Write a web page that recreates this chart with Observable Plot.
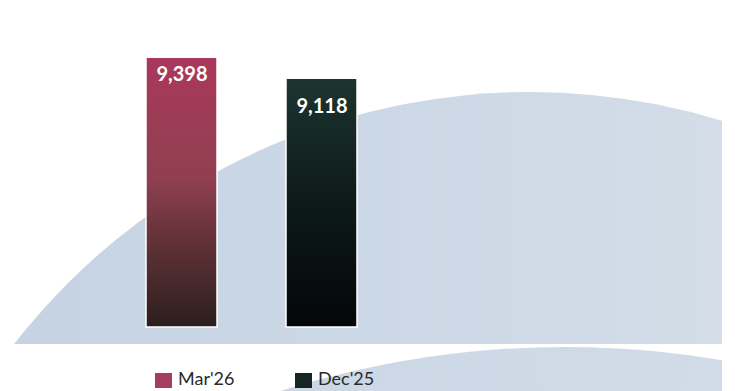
<!DOCTYPE html>
<html>
<head>
<meta charset="utf-8">
<script src="https://cdn.jsdelivr.net/npm/d3@7"></script>
<script src="https://cdn.jsdelivr.net/npm/@observablehq/plot@0.6"></script>
<style>
  html, body { margin: 0; padding: 0; background: #ffffff; }
  #wrap { position: relative; width: 735px; height: 391px; overflow: hidden; font-family: Lato, "Open Sans", sans-serif; }
  #bg { position: absolute; left: 0; top: 0; }
  #chart { position: absolute; left: 0; top: 0; }
  #legend { position: absolute; left: 155px; top: 369px; display: flex; }
  .item { display: flex; align-items: center; width: 140px; }
  .sw { width: 17px; height: 15px; margin-right: 6px; margin-top: 3px; }
  .lab { font-size: 18px; color: #2a2a2a; line-height: 19px; }
</style>
</head>
<body>
<div id="wrap">
  <svg id="bg" width="735" height="391">
    <defs>
      <linearGradient id="bgGrad" x1="0" x2="1" y1="0" y2="0">
        <stop offset="0" stop-color="#c2d1e2"/>
        <stop offset="0.55" stop-color="#d0dbe7"/>
        <stop offset="1" stop-color="#e0e4ea"/>
      </linearGradient>
      <clipPath id="clipTop"><rect x="0" y="0" width="722" height="344"/></clipPath>
      <clipPath id="clipBot"><rect x="0" y="347" width="722" height="60"/></clipPath>
    </defs>
    <circle cx="530" cy="746" r="654" fill="url(#bgGrad)" clip-path="url(#clipTop)"/>
    <circle cx="565" cy="1292" r="945" fill="url(#bgGrad)" clip-path="url(#clipBot)"/>
  </svg>
  <div id="chart"></div>
  <div id="legend"></div>
</div>
<script>
const categories = ["Mar'26", "Dec'25"];
const values = [9398, 9118];
const labels = ["9,398", "9,118"];

const data = categories.map((c, i) => ({category: c, value: values[i], label: labels[i]}));

const gradients = {
  "Mar'26": [["0", "#aa385c"], ["0.45", "#903f50"], ["0.7", "#5e3136"], ["1", "#2c1e1e"]],
  "Dec'25": [["0", "#1c3531"], ["0.5", "#0d1a18"], ["1", "#040707"]]
};
const gradId = c => c === "Mar'26" ? "gMar" : "gDec";

const marks = [];
data.forEach((d, i) => {
  marks.push(Plot.barY([d], {
    x: "category", y: "value",
    fill: `url(#${gradId(d.category)})`,
    stroke: "#ffffff", strokeWidth: 1.5
  }));
  marks.push(Plot.text([d], {
    x: "category", y: "value", text: "label",
    fill: "#ffffff", fontSize: 20, fontWeight: "bold",
    fontFamily: "Lato, 'Open Sans', sans-serif",
    lineAnchor: "bottom", dy: i === 0 ? 23 : 34
  }));
});

const chart = Plot.plot({
  width: 735,
  height: 360,
  margin: 0,
  style: {background: "transparent", overflow: "visible"},
  x: {domain: categories, range: [76.4, 427.4], padding: 0.49, axis: null},
  y: {domain: [5800, 9400], range: [327, 57.1], clamp: true, axis: null},
  marks
});

const svg = d3.select(chart);
const defs = svg.insert("defs", ":first-child");
Object.entries(gradients).forEach(([c, stops]) => {
  const g = defs.append("linearGradient").attr("id", gradId(c))
    .attr("x1", 0).attr("x2", 0).attr("y1", 0).attr("y2", 1);
  stops.forEach(([o, col]) => g.append("stop").attr("offset", o).attr("stop-color", col));
});
document.getElementById("chart").appendChild(chart);

const legend = d3.select("#legend");
const swatchColors = {"Mar'26": "#a53d5e", "Dec'25": "#152624"};
categories.forEach(c => {
  const it = legend.append("div").attr("class", "item");
  it.append("div").attr("class", "sw").style("background", swatchColors[c]);
  it.append("span").attr("class", "lab").text(c);
});
</script>
</body>
</html>
